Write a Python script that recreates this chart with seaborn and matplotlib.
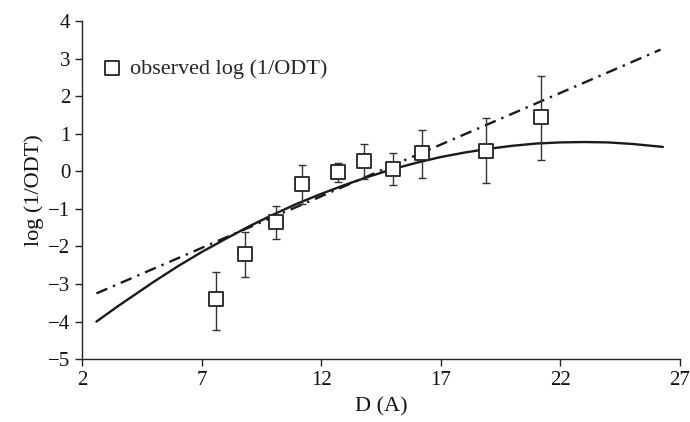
import numpy as np
import pandas as pd
import matplotlib
matplotlib.use("Agg")
import matplotlib.pyplot as plt
import seaborn as sns

# observed points
obs_d = [7.6, 8.8, 10.1, 11.2, 12.7, 13.8, 15.0, 16.2, 18.9, 21.2]
obs_y = [-3.40, -2.19, -1.35, -0.35, -0.01, 0.27, 0.05, 0.50, 0.54, 1.45]
err_lo = [0.83, 0.62, 0.46, 0.53, 0.27, 0.48, 0.41, 0.69, 0.84, 1.16]
err_hi = [0.73, 0.58, 0.43, 0.52, 0.22, 0.47, 0.43, 0.60, 0.88, 1.08]

# fitted curve (solid)
fit_d = [2.6, 3.5, 5, 6, 7, 8, 9, 10, 11, 12, 13, 14, 15, 16, 17, 18, 19,
         20, 21, 22, 23, 24, 25, 26.3]
fit_y = [-4.00, -3.59, -2.94, -2.53, -2.15, -1.80, -1.46, -1.15, -0.86, -0.60,
         -0.36, -0.14, 0.06, 0.23, 0.38, 0.50, 0.60, 0.68, 0.74, 0.77, 0.78,
         0.77, 0.73, 0.65]

# linear fit (dash-dot)
lin_d = [2.6, 26.2]
lin_y = [-3.25, 3.24]

xticks = [2, 7, 12, 17, 22, 27]
yticks = [-5, -4, -3, -2, -1, 0, 1, 2, 3, 4]

sns.set_theme(style="ticks")
plt.rcParams['font.family'] = ['Liberation Serif', 'DejaVu Serif']

fig = plt.figure(figsize=(6.9, 4.22), dpi=100)
ax = fig.add_axes([0.119, 0.149, 0.866, 0.801])

sns.lineplot(x=fit_d, y=fit_y, ax=ax, color='#1a1a1a', lw=1.7)
sns.lineplot(x=lin_d, y=lin_y, ax=ax, color='#1a1a1a', lw=1.7,
             linestyle=(0, (5, 2.6, 1, 2.6)))

ax.errorbar(obs_d, obs_y, yerr=[err_lo, err_hi], fmt='none',
            ecolor='#333333', elinewidth=1.0, capsize=3, capthick=1.0, zorder=3)
df = pd.DataFrame({'D': obs_d, 'y': obs_y})
sns.scatterplot(data=df, x='D', y='y', ax=ax, marker='s', s=115,
                facecolor='white', edgecolor='#222222', linewidth=1.3,
                zorder=4, label='observed log (1/ODT)')

ax.set_xlim(2, 27)
ax.set_ylim(-5, 4)
ax.set_xticks(xticks)
ax.set_yticks(yticks)
ax.set_yticklabels([str(t).replace('-', '\u2212') for t in yticks])
ax.tick_params(labelsize=15, length=5, width=1, color='#222222', labelcolor='#111111')
for s in ['left', 'bottom']:
    ax.spines[s].set_linewidth(1.0)
    ax.spines[s].set_color('#222222')
sns.despine(ax=ax)

ax.set_xlabel('D (A)', fontsize=16, color='#111111', labelpad=5)
ax.set_ylabel('log (1/ODT)', fontsize=16, color='#111111', labelpad=3)

leg = ax.legend(loc='upper left', bbox_to_anchor=(0.017, 0.917), frameon=False,
                fontsize=16, handlelength=1.0, handletextpad=0.3, borderaxespad=0)
for h in leg.legend_handles:
    h.set_facecolor('white')
    h.set_edgecolor('#222222')
    if hasattr(h, 'set_sizes'):
        h.set_sizes([115])
    if hasattr(h, 'set_markersize'):
        h.set_markersize(10.7)
        h.set_markeredgewidth(1.3)

fig.savefig('out.png', dpi=100)
